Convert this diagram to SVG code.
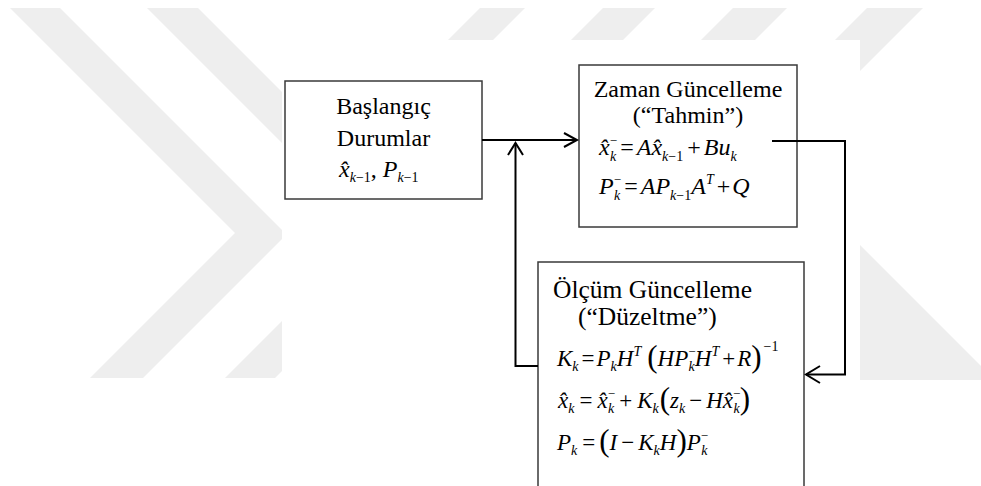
<svg xmlns="http://www.w3.org/2000/svg" width="981" height="486" viewBox="0 0 981 486">
<style>
.wm{fill:#eeeeee}
.box{fill:#ffffff;stroke:#3a3a3a;stroke-width:1.5}
.t{font-family:'Liberation Serif','DejaVu Serif',serif;font-size:24px;fill:#000}
.t3{font-family:'Liberation Serif','DejaVu Serif',serif;font-size:25.5px;fill:#000}
.m{font-family:'Liberation Serif','DejaVu Serif',serif;font-style:italic;font-size:24px;fill:#000}
.m3{font-family:'Liberation Serif','DejaVu Serif',serif;font-style:italic;font-size:23px;fill:#000}
.n{font-style:normal}
.s{font-size:14px}
.sp{font-size:13px}
.bp{font-style:normal;font-size:31px}
.c{fill:none;stroke:#000;stroke-width:2}
</style>
<rect x="0" y="0" width="981" height="486" fill="#ffffff"/>
<g id="watermark">
<polygon class="wm" points="10,8 60,8 286.5,234.5 143,378 90,378 235,233"/>
<polygon class="wm" points="147,8 198,8 421.5,231.5 275,378 225,378 371,232"/>
<polygon class="wm" points="480,8 525,8 493,40 448,40"/>
<polygon class="wm" points="603,8 655,8 623,40 571,40"/>
<polygon class="wm" points="733,8 787,8 755,40 701,40"/>
<polygon class="wm" points="867,8 923,8 860,71 860,40 835,40"/>
<polygon class="wm" points="860,245 995,380 860,380"/>
<rect x="282" y="40" width="578" height="446" fill="#ffffff"/>
</g>
<g id="n-baslangic">
<rect class="box" x="285" y="81" width="197" height="118"/>
<text class="t" x="383.5" y="114" text-anchor="middle">Başlangıç</text>
<text class="t" x="383.5" y="146" text-anchor="middle">Durumlar</text>
<text class="m" x="339" y="177">x̂<tspan class="s" dy="5">k<tspan class="n">−1</tspan></tspan><tspan class="n" dy="-5">, </tspan>P<tspan class="s" dy="5">k<tspan class="n">−1</tspan></tspan></text>
</g>
<g id="n-zaman">
<rect class="box" x="579" y="65" width="218" height="162"/>
<text class="t" x="688" y="97" text-anchor="middle">Zaman Güncelleme</text>
<text class="t" x="688" y="123" text-anchor="middle">(“Tahmin”)</text>
<text class="m" x="599" y="155">x̂<tspan class="sp n" dy="-10">−</tspan><tspan class="s" dx="-7" dy="16">k</tspan><tspan class="n" dx="4" dy="-6">=</tspan><tspan dx="3">A</tspan>x̂<tspan class="s" dy="6">k<tspan class="n">−1</tspan></tspan><tspan class="n" dx="4" dy="-6">+</tspan><tspan dx="3">Bu</tspan><tspan class="s" dy="6">k</tspan></text>
<text class="m" x="599" y="194">P<tspan class="sp n" dy="-10">−</tspan><tspan class="s" dx="-7" dy="16">k</tspan><tspan class="n" dx="4" dy="-6">=</tspan><tspan dx="3">AP</tspan><tspan class="s" dy="6">k<tspan class="n">−1</tspan></tspan><tspan dy="-6">A</tspan><tspan class="s" dy="-10">T</tspan><tspan class="n" dx="3" dy="10">+</tspan><tspan dx="2">Q</tspan></text>
</g>
<g id="n-olcum">
<rect class="box" x="538" y="262" width="266" height="240"/>
<text class="t3" x="553" y="298">Ölçüm Güncelleme</text>
<text class="t3" x="578" y="325">(“Düzeltme”)</text>
<text class="m3" x="557" y="366">K<tspan class="s" dy="5">k</tspan><tspan class="n" dx="3" dy="-5">=</tspan><tspan dx="2">P</tspan><tspan class="s" dy="5">k</tspan><tspan dy="-5">H</tspan><tspan class="s" dy="-10">T</tspan><tspan class="bp" dx="6" dy="11">(</tspan><tspan dy="-1">HP</tspan><tspan class="sp n" dy="-10">−</tspan><tspan class="s" dx="-7" dy="15">k</tspan><tspan dy="-5">H</tspan><tspan class="s" dy="-10">T</tspan><tspan class="n" dx="3" dy="10">+</tspan><tspan dx="2">R</tspan><tspan class="bp" dy="1">)</tspan><tspan class="s n" dx="2" dy="-16">−1</tspan></text>
<text class="m3" x="558" y="408">x̂<tspan class="s" dy="5">k</tspan><tspan class="n" dx="5" dy="-5">=</tspan><tspan dx="5">x̂</tspan><tspan class="sp n" dy="-10">−</tspan><tspan class="s" dx="-7" dy="15">k</tspan><tspan class="n" dx="5" dy="-5">+</tspan><tspan dx="5">K</tspan><tspan class="s" dy="5">k</tspan><tspan class="bp" dx="1" dy="-4">(</tspan><tspan dy="-1">z</tspan><tspan class="s" dy="5">k</tspan><tspan class="n" dx="4" dy="-5">−</tspan><tspan dx="4">Hx̂</tspan><tspan class="sp n" dy="-10">−</tspan><tspan class="s" dx="-7" dy="15">k</tspan><tspan class="bp" dy="-4">)</tspan></text>
<text class="m3" x="557" y="450">P<tspan class="s" dy="5">k</tspan><tspan class="n" dx="5" dy="-5">=</tspan><tspan class="bp" dx="4" dy="1">(</tspan><tspan dy="-1">I</tspan><tspan class="n" dx="4">−</tspan><tspan dx="4">K</tspan><tspan class="s" dy="5">k</tspan><tspan dy="-5">H</tspan><tspan class="bp" dy="1">)</tspan><tspan dy="-1">P</tspan><tspan class="sp n" dy="-10">−</tspan><tspan class="s" dx="-7" dy="15">k</tspan></text>
</g>
<g id="connectors">
<line class="c" x1="482" y1="140" x2="577" y2="140"/>
<polyline class="c" points="564,133 577,140 564,147"/>
<polyline class="c" points="538,366 515.5,366 515.5,143"/>
<polyline class="c" points="508,155 515.5,143 523,155"/>
<polyline class="c" points="772,141 845,141 845,374.5 806,374.5"/>
<polyline class="c" points="820,366 806,374.5 820,383"/>
</g>
</svg>
